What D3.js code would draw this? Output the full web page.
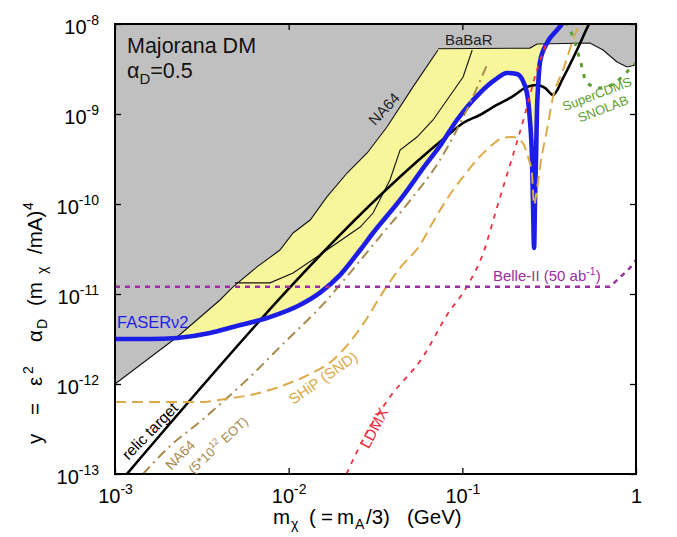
<!DOCTYPE html>
<html><head><meta charset="utf-8">
<script src="https://cdn.jsdelivr.net/npm/d3@7"></script>
<style>
body{margin:0;background:#fff;overflow:hidden}
svg{display:block}
text{font-family:"Liberation Sans",Arial,Helvetica,sans-serif}
</style>
</head><body>
<svg id="chart" width="677" height="537"></svg>
<script>
// ---------- data ----------
const xTicks = [1e-3, 1e-2, 1e-1, 1];
const xTickBase = ["10", "10", "10", "1"];
const xTickExp = ["-3", "-2", "-1", ""];
const yTicks = [1e-13, 1e-12, 1e-11, 1e-10, 1e-9, 1e-8];
const yTickExp = ["-13", "-12", "-11", "-10", "-9", "-8"];

// NA64 existing bound (lower edge of grey region)
const na64 = [[1e-3,1.0e-12],[2.28e-3,3.33e-12],[4.02e-3,8.58e-12],[4.78e-3,1.20e-11],[6.57e-3,2.0e-11],
  [8.91e-3,3.08e-11],[1.06e-2,4.76e-11],[1.33e-2,6.64e-11],[1.66e-2,1.20e-10],[2.17e-2,2.21e-10],
  [2.83e-2,3.69e-10],[3.68e-2,7.17e-10],[5.20e-2,2.0e-9],[7.24e-2,5.14e-9]];
// BaBaR bound
const babar = [[7.24e-2,5.3e-9],[0.245,5.4e-9],[0.269,6.0e-9],[0.543,6.15e-9],[0.646,5.14e-9],
  [0.778,3.78e-9],[0.887,3.33e-9],[1.0,3.5e-9]];
// other existing bound (thin black)
const thinBound = [[4.91e-3,1.33e-11],[7.81e-3,1.33e-11],[1.06e-2,1.71e-11],[1.66e-2,3.08e-11],
  [2.58e-2,5.55e-11],[3.06e-2,7.94e-11],[3.83e-2,1.85e-10],[4.38e-2,3.98e-10],[5.48e-2,5.55e-10],
  [6.78e-2,8.58e-10],[8.16e-2,1.43e-9],[0.101,2.58e-9],[0.114,5.14e-9]];
// FASERnu2 sensitivity
const faser = [[1e-3,3.16e-12],[1.59e-3,3.16e-12],[2.28e-3,3.25e-12],[3.52e-3,3.69e-12],[4.78e-3,4.30e-12],
  [7.50e-3,5.41e-12],[1.16e-2,7.55e-12],[1.51e-2,1.03e-11],[1.98e-2,1.63e-11],[2.58e-2,3.08e-11],
  [3.06e-2,4.76e-11],[4.38e-2,1.11e-10],[6.26e-2,2.86e-10],[7.43e-2,4.41e-10],[9.31e-2,8.58e-10],
  [0.126,1.71e-9],[0.154,2.39e-9],[0.181,2.86e-9],[0.206,2.78e-9],[0.226,2.21e-9],[0.239,1.43e-9],
  [0.245,8.58e-10],[0.252,3.08e-10],[0.255,1.11e-10],[0.259,3.25e-11],[0.262,1.11e-10],[0.266,3.69e-10],
  [0.269,1.11e-9],[0.273,2.0e-9],[0.280,3.78e-9],[0.307,6.15e-9],[0.351,8.58e-9],[0.380,1.03e-8],[0.445,1.5e-8]];
// relic target
const relic = [[1.17e-3,1.0e-13],[8.16e-2,5.7e-10],[0.101,7.94e-10],[0.126,9.75e-10],[0.158,1.26e-9],
  [0.196,1.58e-9],[0.236,2.0e-9],[0.269,2.10e-9],[0.299,1.95e-9],[0.333,1.63e-9],[0.380,2.51e-9],
  [0.457,5.14e-9],[0.543,1.05e-8],[0.6,1.5e-8]];
// SHiP (SND)
const ship = [[1e-3,6.31e-13],[3.08e-3,6.31e-13],[4.29e-3,6.81e-13],[6.40e-3,7.74e-13],[9.78e-3,1.0e-12],
  [1.33e-2,1.29e-12],[1.80e-2,1.85e-12],[2.25e-2,2.93e-12],[2.83e-2,5.41e-12],[3.49e-2,1.05e-11],
  [4.38e-2,1.95e-11],[5.70e-2,3.50e-11],[6.78e-2,6.31e-11],[8.84e-2,1.43e-10],[0.101,2.0e-10],
  [0.121,3.08e-10],[0.144,4.30e-10],[0.171,5.41e-10],[0.196,5.55e-10],[0.223,4.76e-10],[0.239,3.33e-10],
  [0.252,2.10e-10],[0.259,9.75e-11],[0.266,1.26e-10],[0.284,3.08e-10],[0.307,6.64e-10],[0.333,1.55e-9],
  [0.380,3.08e-9],[0.434,6.64e-9],[0.476,1.05e-8]];
// NA64 (5*10^12 EOT) projection
const na64proj = [[1.45e-3,1.0e-13],[2.02e-3,1.95e-13],[3.17e-3,3.98e-13],[4.29e-3,6.64e-13],[6.15e-3,1.26e-12],
  [8.91e-3,2.58e-12],[1.66e-2,8.58e-12],[2.25e-2,1.71e-11],[3.49e-2,4.76e-11],[5.20e-2,1.20e-10],
  [7.43e-2,3.08e-10],[0.106,1.11e-9],[0.141,3.78e-9]];
// LDMX
const ldmx = [[2.15e-2,1.0e-13],[2.83e-2,2.93e-13],[3.83e-2,7.17e-13],[5.93e-2,2.0e-12],[8.16e-2,5.84e-12],
  [0.106,1.20e-11],[0.132,2.86e-11],[0.158,9.03e-11],[0.188,2.71e-10],[0.223,8.14e-10],[0.269,3.08e-9],[0.307,6.31e-9]];
// Belle-II (50 ab^-1)
const belle = [[1e-3,1.2e-11],[0.708,1.2e-11],[0.923,1.95e-11],[1.0,2.39e-11]];
// SuperCDMS SNOLAB
const cdms = [[0.395,1.05e-8],[0.434,7.17e-9],[0.476,3.98e-9],[0.522,2.21e-9],[0.621,1.95e-9],
  [0.738,2.15e-9],[0.887,2.93e-9],[1.0,3.69e-9]];

// ---------- layout ----------
const L = 115, R = 636, T = 24, B = 474;
const svg = d3.select("#chart");
const x = d3.scaleLog().domain([1e-3, 1]).range([L, R]);
const y = d3.scaleLog().domain([1e-13, 1e-8]).range([B, T]);

svg.append("defs").append("clipPath").attr("id","clip")
  .append("rect").attr("x",L).attr("y",T).attr("width",R-L).attr("height",B-T);
const plot = svg.append("g").attr("clip-path","url(#clip)");

const lineLin = d3.line().x(d=>x(d[0])).y(d=>y(d[1]));
const lineSm = d3.line().x(d=>x(d[0])).y(d=>y(d[1])).curve(d3.curveMonotoneX);

// yellow FASERnu2 reach: area above the sensitivity curve
plot.append("path").datum(faser)
  .attr("d", d3.area().x(d=>x(d[0])).y0(T).y1(d=>y(d[1])).curve(d3.curveMonotoneX))
  .attr("fill","#f7f69b");
// grey excluded region
plot.append("path").datum(na64.concat(babar))
  .attr("d", d3.area().x(d=>x(d[0])).y0(T).y1(d=>y(d[1])))
  .attr("fill","#c1c0c1");
[na64, babar, thinBound].forEach(s=>
  plot.append("path").datum(s).attr("d",lineLin).attr("fill","none").attr("stroke","#111").attr("stroke-width",1.1));

// relic target
plot.append("path").datum(relic).attr("d",lineSm).attr("fill","none").attr("stroke","#000").attr("stroke-width",2.6);
// FASERnu2
plot.append("path").datum(faser).attr("d",lineSm).attr("fill","none").attr("stroke","#1d1de8").attr("stroke-width",4.6).attr("stroke-linejoin","round");
// NA64 projection
plot.append("path").datum(na64proj).attr("d",lineSm).attr("fill","none").attr("stroke","#a88a4c").attr("stroke-width",2).attr("stroke-dasharray","10,5,2,5");
// SHiP
plot.append("path").datum(ship).attr("d",lineSm).attr("fill","none").attr("stroke","#dcaa48").attr("stroke-width",2).attr("stroke-dasharray","11,6");
// LDMX
plot.append("path").datum(ldmx).attr("d",lineSm).attr("fill","none").attr("stroke","#ec3040").attr("stroke-width",1.8).attr("stroke-dasharray","5,6");
// Belle-II
plot.append("path").datum(belle).attr("d",lineLin).attr("fill","none").attr("stroke","#9a2fa0").attr("stroke-width",2.5).attr("stroke-dasharray","5,5");
// SuperCDMS
plot.append("path").datum(cdms).attr("d",lineSm).attr("fill","none").attr("stroke","#5d9e32").attr("stroke-width",3).attr("stroke-dasharray","4,7");

// ---------- axes ----------
const ax = [
  svg.append("g").attr("transform",`translate(0,${B})`).call(d3.axisBottom(x).tickValues(xTicks).tickSize(-6).tickFormat("")),
  svg.append("g").attr("transform",`translate(0,${T})`).call(d3.axisTop(x).tickValues(xTicks).tickSize(-6).tickFormat("")),
  svg.append("g").attr("transform",`translate(${L},0)`).call(d3.axisLeft(y).tickValues(yTicks).tickSize(-6).tickFormat("")),
  svg.append("g").attr("transform",`translate(${R},0)`).call(d3.axisRight(y).tickValues(yTicks).tickSize(-6).tickFormat(""))
];
ax.forEach(g=>{g.select(".domain").remove(); g.selectAll(".tick line").attr("stroke","#000").attr("stroke-width",1.3);});
svg.append("rect").attr("x",L).attr("y",T).attr("width",R-L).attr("height",B-T)
  .attr("fill","none").attr("stroke","#000").attr("stroke-width",2);

ax[0].selectAll(".tick").each(function(d,i){
  const t = d3.select(this).append("text").attr("y",29).attr("text-anchor","middle")
    .attr("fill","#000").attr("font-size",20);
  t.append("tspan").text(xTickBase[i]);
  if (xTickExp[i]) t.append("tspan").attr("dy",-9).attr("font-size",14).text(xTickExp[i]);
});
ax[2].selectAll(".tick").each(function(d,i){
  const t = d3.select(this).append("text").attr("x",-16).attr("y",9).attr("text-anchor","end")
    .attr("fill","#000").attr("font-size",20);
  t.append("tspan").text("10");
  t.append("tspan").attr("dy",-9).attr("font-size",14).text(yTickExp[i]);
});

// axis titles: pieces [text, start offset along the text, baseline shift, size]
const xTitle = [["m",0,0,20.5],["χ",18,5,14],["(",36,0,20.5],["=",48,0,20.5],["m",64,0,20.5],
  ["A",82,5,14],["/3)",93,0,20.5],["(GeV)",134,0,20.5]];
const xt = svg.append("g").attr("transform","translate(273,524)").append("text").attr("fill","#000");
xTitle.forEach(p=>xt.append("tspan").attr("x",p[1]).attr("y",p[2]).attr("font-size",p[3]).text(p[0]));

const yTitle = [["y",0,0,20.5],["=",29,0,20.5],["ε",58,0,20.5],["2",70,-9,14],["α",102,0,20.5],
  ["D",115,5,14],["(m",138,0,20.5],["χ",170,5,14],["/mA)",190,0,20.5],["4",234,-9,14]];
const yt = svg.append("g").attr("transform","translate(42,444) rotate(-90)").append("text").attr("fill","#000");
yTitle.forEach(p=>yt.append("tspan").attr("x",p[1]).attr("y",p[2]).attr("font-size",p[3]).text(p[0]));

// ---------- annotations ----------
svg.append("text").attr("x",L+12).attr("y",T+29).attr("font-size",21.5).attr("fill","#111").text("Majorana DM");
const ad = svg.append("text").attr("x",L+12).attr("y",T+54).attr("font-size",21.5).attr("fill","#111");
ad.append("tspan").text("α");
ad.append("tspan").attr("dy",6).attr("font-size",15).text("D");
ad.append("tspan").attr("dy",-6).text("=0.5");

function rotLabel(xv, yv, ang, parts, color, size, shift){
  const g = svg.append("g").attr("transform",`translate(${x(xv)},${y(yv)}) rotate(${ang})`);
  const t = g.append("text").attr("text-anchor","middle").attr("dy",shift).attr("font-size",size).attr("fill",color);
  parts.forEach(p=>{ const s = t.append("tspan").text(p[0]); if(p[1]) s.attr("dy",p[1]); if(p[2]) s.attr("font-size",size*p[2]); });
  return t;
}
svg.append("text").attr("x",x(7.95e-2)).attr("y",y(5.84e-9)).attr("font-size",15).attr("fill","#222").text("BaBaR");
rotLabel(3.54e-2,1.14e-9,-47,[["NA64"]],"#222",15,"0.35em");
rotLabel(1.72e-3,2.58e-13,-45.5,[["relic target"]],"#000",15.5,"-3");
rotLabel(2.37e-3,1.63e-13,-45,[["NA64"]],"#a88a4c",14,"0.35em");
rotLabel(3.92e-3,2.1e-13,-43,[["(5*10"],["12",-6,0.7],[" EOT)",6,0]],"#a88a4c",13,"0.35em");
rotLabel(1.58e-2,1.17e-12,-35,[["SHiP (SND)"]],"#dcaa48",15,"0.35em");
rotLabel(3.10e-2,3.25e-13,-62,[["LDMX"]],"#ec3040",15.5,"0.35em");
rotLabel(0.596,1.67e-9,-21,[["SuperCDMS"]],"#5d9e32",13,"0.35em");
rotLabel(0.646,1.14e-9,-21,[["SNOLAB"]],"#5d9e32",13,"0.35em");
svg.append("text").attr("x",x(1.027e-3)).attr("y",y(4.19e-12)).attr("font-size",16.5).attr("fill","#1d1de8").text("FASERν2");
const bl = svg.append("text").attr("x",x(0.150)).attr("y",y(1.39e-11)).attr("font-size",15).attr("fill","#9a2fa0");
bl.append("tspan").text("Belle-II (50 ab");
bl.append("tspan").attr("dy",-6).attr("font-size",10.5).text("-1");
bl.append("tspan").attr("dy",6).text(")");
</script>
</body></html>
